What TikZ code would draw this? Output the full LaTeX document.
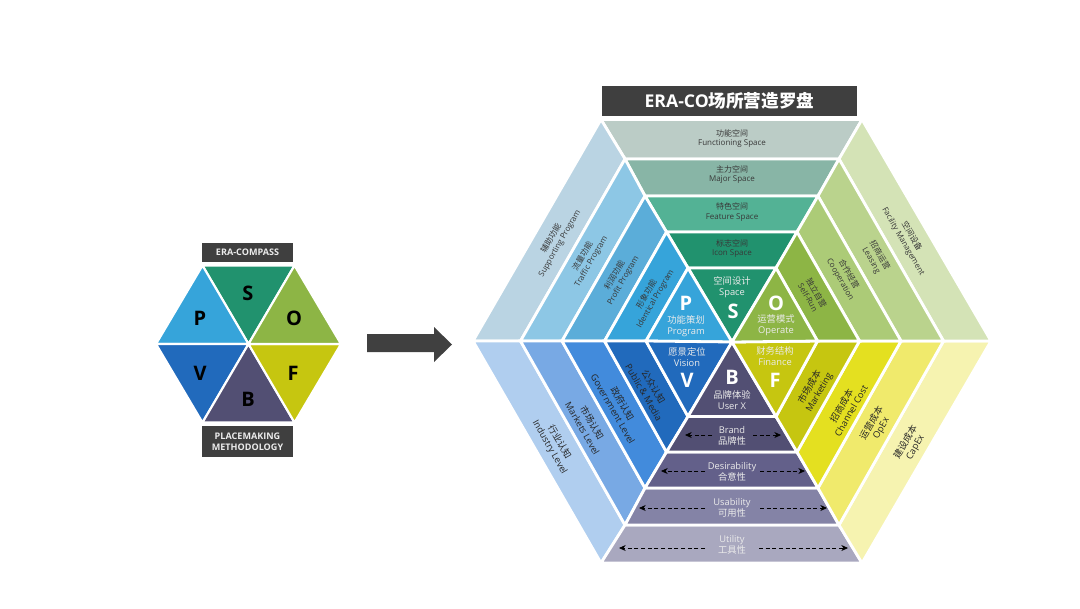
\documentclass[tikz,border=0pt]{standalone}
\usepackage{xcolor}
\usepackage{fontspec}
\setmainfont{Open Sans}
\newfontfamily\cjk{Noto Sans CJK SC}
\usetikzlibrary{arrows.meta}

\definecolor{boxgray}{HTML}{3F3F3F}
\definecolor{topA}{HTML}{BBCCC6}
\definecolor{topB}{HTML}{88B5A6}
\definecolor{topC}{HTML}{53B295}
\definecolor{topD}{HTML}{21926E}
\definecolor{leftA}{HTML}{BAD4E3}
\definecolor{leftB}{HTML}{8DC7E5}
\definecolor{leftC}{HTML}{5BADD9}
\definecolor{leftD}{HTML}{36A4DA}
\definecolor{lowA}{HTML}{B0CEEF}
\definecolor{lowB}{HTML}{78A9E4}
\definecolor{lowC}{HTML}{428BDC}
\definecolor{lowD}{HTML}{216ABC}
\definecolor{botA}{HTML}{A9A8BF}
\definecolor{botB}{HTML}{8483A6}
\definecolor{botC}{HTML}{63608A}
\definecolor{botD}{HTML}{524F73}
\definecolor{finA}{HTML}{F6F3B0}
\definecolor{finB}{HTML}{F0EA6C}
\definecolor{finC}{HTML}{E4E020}
\definecolor{finD}{HTML}{C6C610}
\definecolor{opA}{HTML}{D4E3B6}
\definecolor{opB}{HTML}{BAD38D}
\definecolor{opC}{HTML}{ACCB77}
\definecolor{opD}{HTML}{8DB545}

\newcommand{\zh}[1]{{\cjk #1}}

\tikzset{
  cell/.style={draw=white,line width=2.1pt},
  smallcell/.style={draw=white,line width=1.6pt},
  band/.style={align=center,inner sep=0pt,text=black!78,font=\fontsize{6}{7.2}\selectfont},
  lowband/.style={align=center,inner sep=0pt,text=black!85,font=\fontsize{6.9}{8.2}\selectfont},
  inband/.style={align=center,inner sep=0pt,text=white!92!black,font=\fontsize{7}{8.2}\selectfont},
  heading/.style={align=center,inner sep=0pt,text=white!92!black,font=\bfseries\fontsize{6.8}{8.4}\selectfont},
  bigletter/.style={inner sep=0pt,text=white,font=\bfseries\fontsize{15}{15}\selectfont},
  smallletter/.style={inner sep=0pt,text=black,font=\bfseries\fontsize{15}{15}\selectfont},
  dasharrow/.style={dashed,dash pattern=on 3pt off 2pt,line width=0.55pt,-{Stealth[length=5pt,width=4.5pt]}}
}

\begin{document}
\begin{tikzpicture}[x=0.75pt,y=-0.75pt]
  \useasboundingbox (0,0) rectangle (1080,608);

  % rings of the big hexagon
  \foreach \i/\xl/\xa/\xb/\xr/\yt/\yb in {
    1/646/688/776/817.5/268/416.5,
    2/604.5/666.5/797/859.5/232/452,
    3/562/645/818/901/196/488,
    4/520.5/625/839/943.5/159/525,
    5/473/601/862/991/119.5/563}{
    \coordinate (l\i) at (\xl,341);
    \coordinate (ul\i) at (\xa,\yt);
    \coordinate (ur\i) at (\xb,\yt);
    \coordinate (r\i) at (\xr,341);
    \coordinate (lr\i) at (\xb,\yb);
    \coordinate (ll\i) at (\xa,\yb);
  }
  \coordinate (mid) at (732,342);

  % top
  \filldraw[cell,fill=topA] (ul5) -- (ur5) -- (ur4) -- (ul4) -- cycle;
  \filldraw[cell,fill=topB] (ul4) -- (ur4) -- (ur3) -- (ul3) -- cycle;
  \filldraw[cell,fill=topC] (ul3) -- (ur3) -- (ur2) -- (ul2) -- cycle;
  \filldraw[cell,fill=topD] (ul2) -- (ur2) -- (ur1) -- (ul1) -- cycle;
  \filldraw[cell,fill=topD] (ul1) -- (ur1) -- (mid) -- cycle;
  % upper left
  \filldraw[cell,fill=leftA] (l5) -- (ul5) -- (ul4) -- (l4) -- cycle;
  \filldraw[cell,fill=leftB] (l4) -- (ul4) -- (ul3) -- (l3) -- cycle;
  \filldraw[cell,fill=leftC] (l3) -- (ul3) -- (ul2) -- (l2) -- cycle;
  \filldraw[cell,fill=leftD] (l2) -- (ul2) -- (ul1) -- (l1) -- cycle;
  \filldraw[cell,fill=leftD] (l1) -- (ul1) -- (mid) -- cycle;
  % lower left
  \filldraw[cell,fill=lowA] (l5) -- (ll5) -- (ll4) -- (l4) -- cycle;
  \filldraw[cell,fill=lowB] (l4) -- (ll4) -- (ll3) -- (l3) -- cycle;
  \filldraw[cell,fill=lowC] (l3) -- (ll3) -- (ll2) -- (l2) -- cycle;
  \filldraw[cell,fill=lowD] (l2) -- (ll2) -- (ll1) -- (l1) -- cycle;
  \filldraw[cell,fill=lowD] (l1) -- (ll1) -- (mid) -- cycle;
  % bottom
  \filldraw[cell,fill=botA] (ll5) -- (lr5) -- (lr4) -- (ll4) -- cycle;
  \filldraw[cell,fill=botB] (ll4) -- (lr4) -- (lr3) -- (ll3) -- cycle;
  \filldraw[cell,fill=botC] (ll3) -- (lr3) -- (lr2) -- (ll2) -- cycle;
  \filldraw[cell,fill=botD] (ll2) -- (lr2) -- (lr1) -- (ll1) -- cycle;
  \filldraw[cell,fill=botD] (ll1) -- (lr1) -- (mid) -- cycle;
  % lower right
  \filldraw[cell,fill=finA] (r5) -- (lr5) -- (lr4) -- (r4) -- cycle;
  \filldraw[cell,fill=finB] (r4) -- (lr4) -- (lr3) -- (r3) -- cycle;
  \filldraw[cell,fill=finC] (r3) -- (lr3) -- (lr2) -- (r2) -- cycle;
  \filldraw[cell,fill=finD] (r2) -- (lr2) -- (lr1) -- (r1) -- cycle;
  \filldraw[cell,fill=finD] (r1) -- (lr1) -- (mid) -- cycle;
  % upper right
  \filldraw[cell,fill=opA] (r5) -- (ur5) -- (ur4) -- (r4) -- cycle;
  \filldraw[cell,fill=opB] (r4) -- (ur4) -- (ur3) -- (r3) -- cycle;
  \filldraw[cell,fill=opC] (r3) -- (ur3) -- (ur2) -- (r2) -- cycle;
  \filldraw[cell,fill=opD] (r2) -- (ur2) -- (ur1) -- (r1) -- cycle;
  \filldraw[cell,fill=opD] (r1) -- (ur1) -- (mid) -- cycle;

  % small hexagon
  \coordinate (hub) at (248.5,344);
  \coordinate (hubl) at (156,344);
  \coordinate (hubr) at (341,344);
  \coordinate (hubul) at (202.5,265.5);
  \coordinate (hubur) at (294.5,265.5);
  \coordinate (hubll) at (202.5,422.5);
  \coordinate (hublr) at (294.5,422.5);
  \filldraw[smallcell,fill=topD] (hubul) -- (hubur) -- (hub) -- cycle;
  \filldraw[smallcell,fill=leftD] (hubl) -- (hubul) -- (hub) -- cycle;
  \filldraw[smallcell,fill=lowD] (hubl) -- (hubll) -- (hub) -- cycle;
  \filldraw[smallcell,fill=botD] (hubll) -- (hublr) -- (hub) -- cycle;
  \filldraw[smallcell,fill=finD] (hubr) -- (hublr) -- (hub) -- cycle;
  \filldraw[smallcell,fill=opD] (hubr) -- (hubur) -- (hub) -- cycle;

  \node[smallletter] (letS) at (248,293) {S};
  \node[smallletter] (letP) at (200,318) {P};
  \node[smallletter] (letO) at (294,318) {O};
  \node[smallletter] (letV) at (200,373) {V};
  \node[smallletter] (letF) at (293,373) {F};
  \node[smallletter] (letB) at (248,399) {B};

  \node[heading,fill=boxgray,minimum width=68.25pt,minimum height=14.25pt] (compass) at (247.5,252.5) {ERA-COMPASS};
  \node[heading,fill=boxgray,minimum width=68.25pt,minimum height=23.25pt] (method) at (247.5,441.5) {PLACEMAKING\\METHODOLOGY};

  % arrow
  \fill[black!75] (367,334) -- (434,334) -- (434,327) -- (452,344.5) -- (434,362) -- (434,352) -- (367,352) -- cycle;

  % title
  \node[inner sep=0pt,fill=boxgray,text=white,minimum width=191.25pt,minimum height=22.5pt,font=\bfseries\fontsize{13.2}{15}\selectfont] (title) at (729.5,101) {ERA-CO{\cjk\bfseries 场所营造罗盘}};

  % top bands
  \node[band] (functioning) at (732,138.5) {\zh{功能空间}\\Functioning Space};
  \node[band] (major) at (732,174.5) {\zh{主力空间}\\Major Space};
  \node[band] (feature) at (732,212) {\zh{特色空间}\\Feature Space};
  \node[band] (icon) at (732,248.5) {\zh{标志空间}\\Icon Space};

  % upper left
  \node[band,rotate=60] (supporting) at (555.5,241) {\zh{辅助功能}\\Supporting Program};
  \node[band,rotate=60] (traffic) at (587,259) {\zh{流量功能}\\Traffic Program};
  \node[band,rotate=60] (profit) at (619,278) {\zh{利润功能}\\Profit Program};
  \node[band,rotate=60] (identical) at (651,296.5) {\zh{形象功能}\\Identical Program};

  % lower left
  \node[lowband,rotate=-60] (industry) at (554.5,444.5) {\zh{行业认知}\\Industry Level};
  \node[lowband,rotate=-60] (markets) at (587.5,425.5) {\zh{市场认知}\\Markets Level};
  \node[lowband,rotate=-60] (government) at (618,406) {\zh{政府认知}\\Government Level};
  \node[lowband,rotate=-60] (public) at (649,389.5) {\zh{公众认知}\\Public \& Media};

  % upper right
  \node[band,rotate=-60] (facility) at (907.5,239) {\zh{空间设备}\\Facility Management};
  \node[band,rotate=-60] (leasing) at (875.5,258) {\zh{招商运营}\\Leasing};
  \node[band,rotate=-60] (cooperation) at (844.5,277) {\zh{合作经营}\\Cooperation};
  \node[band,rotate=-60] (selfrun) at (812.5,295) {\zh{独立自营}\\Self-Run};

  % lower right
  \node[lowband,rotate=60] (marketing) at (814.5,390) {\zh{市场成本}\\Marketing};
  \node[lowband,rotate=60] (channel) at (846,408) {\zh{招商成本}\\Channel Cost};
  \node[lowband,rotate=60] (opex) at (876.5,425.5) {\zh{运营成本}\\OpEx};
  \node[lowband,rotate=60] (capex) at (910.5,444.5) {\zh{建设成本}\\CapEx};

  % centre
  \node[bigletter] (bigP) at (686,303) {P};
  \node[inband] (program) at (686,326.5) {\zh{功能策划}\\Program};
  \node[bigletter] (bigS) at (733,311) {S};
  \node[inband] (space) at (732,287.5) {\zh{空间设计}\\Space};
  \node[bigletter] (bigO) at (776,303) {O};
  \node[inband] (operate) at (776,325.5) {\zh{运营模式}\\Operate};
  \node[bigletter] (bigV) at (687,380) {V};
  \node[inband] (vision) at (687,357) {\zh{愿景定位}\\Vision};
  \node[bigletter] (bigB) at (732,377) {B};
  \node[inband] (userx) at (732,400) {\zh{品牌体验}\\User X};
  \node[bigletter] (bigF) at (775,380) {F};
  \node[inband] (finance) at (775,356.5) {\zh{财务结构}\\Finance};

  % bottom bands
  \node[inband] (brand) at (732,435.5) {Brand\\\zh{品牌性}};
  \node[inband] (desirability) at (732,471.5) {Desirability\\\zh{合意性}};
  \node[inband] (usability) at (732,507.5) {Usability\\\zh{可用性}};
  \node[inband] (utility) at (732,545) {Utility\\\zh{工具性}};

  \coordinate (brandA) at (712,435);
  \coordinate (brandL) at (685,435);
  \coordinate (brandB) at (753,435);
  \coordinate (brandR) at (781,435);
  \coordinate (desA) at (705,471);
  \coordinate (desL) at (661,471);
  \coordinate (desB) at (760,471);
  \coordinate (desR) at (805,471);
  \coordinate (useA) at (705,508);
  \coordinate (useL) at (639,508);
  \coordinate (useB) at (760,508);
  \coordinate (useR) at (827,508);
  \coordinate (utilA) at (705,548);
  \coordinate (utilL) at (619,548);
  \coordinate (utilB) at (759,548);
  \coordinate (utilR) at (848,548);
  \draw[dasharrow] (brandA) -- (brandL);
  \draw[dasharrow] (brandB) -- (brandR);
  \draw[dasharrow] (desA) -- (desL);
  \draw[dasharrow] (desB) -- (desR);
  \draw[dasharrow] (useA) -- (useL);
  \draw[dasharrow] (useB) -- (useR);
  \draw[dasharrow] (utilA) -- (utilL);
  \draw[dasharrow] (utilB) -- (utilR);
\end{tikzpicture}
\end{document}
